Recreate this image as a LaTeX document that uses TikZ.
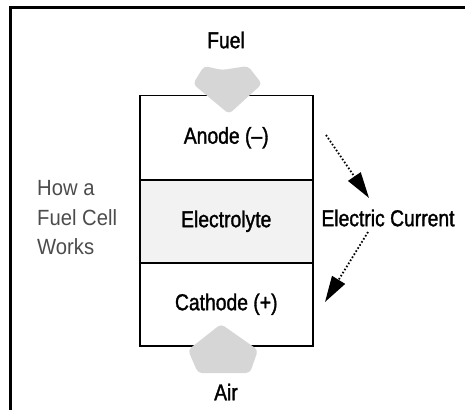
\documentclass[tikz,border=0pt]{standalone}
\usepackage{fontspec}
\setmainfont{Liberation Sans}[FakeStretch=0.84,FakeBold=1.4]
\newfontfamily\thinfont{Liberation Sans}[FakeStretch=0.92]
\usetikzlibrary{arrows.meta}
\tikzset{
  lbl/.style={font=\fontsize{23}{26}\selectfont, inner sep=0pt, text=black},
  part/.style={draw=black, line width=1.5pt, minimum width=173pt, inner sep=0pt},
  gas/.style={fill=gray!32, draw=none},
  current/.style={line width=1.8pt, dash pattern=on 1.6pt off 2pt, -{Triangle[length=26pt,width=15pt]}},
}
\begin{document}
\begin{tikzpicture}[x=1pt,y=-1pt]
\useasboundingbox (0,0) rectangle (465,409);
\begin{scope}
\clip (0,0) rectangle (465,409);
\draw[line width=3pt] (10,430) -- (10,8) -- (480,8);
\end{scope}
% cell parts
\node[part, minimum height=84pt, anchor=north west] (anode) at (139,95) {};
\node[part, minimum height=83pt, anchor=north west, fill=gray!10] (electrolyte) at (139,179) {};
\node[part, minimum height=83pt, anchor=north west] (cathode) at (139,262) {};
% fuel and air arrows
\fill[gas, rounded corners=4pt] (204,66) -- (222,70) -- (248,66) -- (262,84) -- (229,114) -- (193,84) -- cycle;
\fill[gas, rounded corners=4pt] (221,324) -- (258,350) -- (250,373) -- (198,373) -- (188,350) -- cycle;
% labels
\node[lbl] (fuel) at (226,40) {Fuel};
\node[lbl] (anodet) at (anode.center) {Anode (--)};
\node[lbl] (electrolytet) at (electrolyte.center) {Electrolyte};
\node[lbl] (cathodet) at (cathode.center) {Cathode (+)};
\node[lbl] (air) at (226,392) {Air};
\node[lbl] (current) at (388,218) {Electric Current};
\node[font=\thinfont\fontsize{22}{29.5}\selectfont, text=black!70, align=left, anchor=west, inner sep=0pt] (how) at (37,218) {How a\\Fuel Cell\\Works};
% current arrows
\coordinate (c1s) at (326,135);
\coordinate (c1e) at (369,198);
\coordinate (c2s) at (368,232);
\coordinate (c2e) at (325,302);
\draw[current] (c1s) -- (c1e);
\draw[current] (c2s) -- (c2e);
\end{tikzpicture}
\end{document}
